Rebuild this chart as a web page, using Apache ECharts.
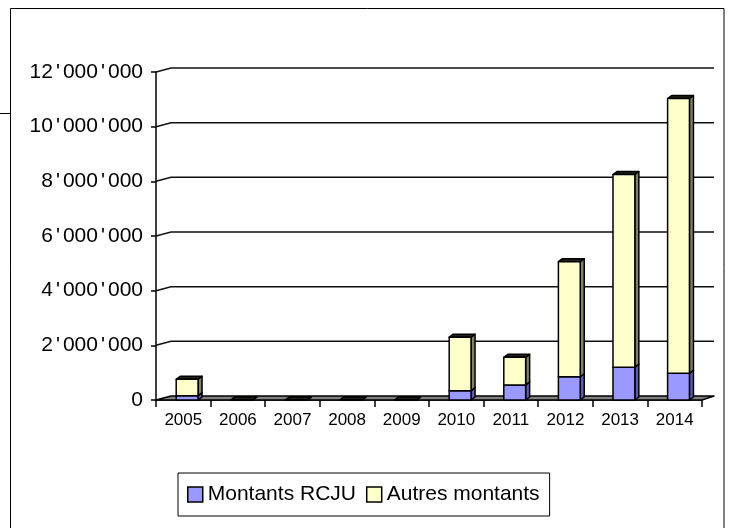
<!DOCTYPE html>
<html>
<head>
<meta charset="utf-8">
<script src="https://cdn.jsdelivr.net/npm/echarts@6/dist/echarts.min.js"></script>
<style>
  html, body { margin: 0; padding: 0; background: #ffffff; }
  #chart { width: 729px; height: 528px; }
</style>
</head>
<body>
<div id="chart"></div>
<script>
// Amounts per year (CHF)
const years = ['2005', '2006', '2007', '2008', '2009', '2010', '2011', '2012', '2013', '2014'];
const montantsRCJU = [160000, 0, 0, 0, 0, 340000, 550000, 850000, 1200000, 980000];
const autresMontants = [600000, 0, 0, 0, 0, 1960000, 1010000, 4210000, 7050000, 10050000];
const yTicks = [0, 2000000, 4000000, 6000000, 8000000, 10000000, 12000000];

const FONT = '"Liberation Sans", Arial, sans-serif';

// extrusion of the bars and of the back wall
const BAR_DX = 4, BAR_DY = 3;
const WALL_DX = 15, WALL_DY = 4, WALL_RIGHT = 12;

const OUTLINE = { stroke: '#000', lineWidth: 1.5, lineJoin: 'round' };

// thousands separated with an apostrophe, e.g. 12'000'000
function formatAmount(v) {
  return String(v).replace(/\B(?=(\d{3})+(?!\d))/g, "{q|'}");
}

// box-shaped bar: front face, right side and top face
function boxBar(front, side, top) {
  return function (params, api) {
    const i = api.value(0);
    const v = api.value(1);
    const base = api.value(2);
    const pBottom = api.coord([i, base]);
    const pTop = api.coord([i, base + v]);
    const band = api.size([1, 0])[0];
    const w = band * 0.4;
    const x0 = pBottom[0] - band * 0.13;
    const x1 = x0 + w;
    const yt = pTop[1];
    const yb = pBottom[1];
    return {
      type: 'group',
      children: [
        {
          type: 'polygon',
          shape: { points: [[x1, yb], [x1 + BAR_DX, yb - BAR_DY], [x1 + BAR_DX, yt - BAR_DY], [x1, yt]] },
          style: Object.assign({ fill: side }, OUTLINE)
        },
        {
          type: 'polygon',
          shape: { points: [[x0, yt], [x0 + BAR_DX, yt - BAR_DY], [x1 + BAR_DX, yt - BAR_DY], [x1, yt]] },
          style: Object.assign({ fill: top }, OUTLINE)
        },
        {
          type: 'rect',
          shape: { x: x0, y: yt, width: w, height: yb - yt },
          style: Object.assign({ fill: front }, OUTLINE)
        }
      ]
    };
  };
}

// back-wall gridlines and the floor
function wallRenderer(params, api) {
  const cs = params.coordSys;
  const t = api.value(1);
  const y = api.coord([0, t])[1];
  const xl = cs.x;
  const xr = cs.x + cs.width;
  if (t === 0) {
    return {
      type: 'polygon',
      shape: { points: [[xl, y], [xl + WALL_DX, y - WALL_DY], [xr + WALL_RIGHT, y - WALL_DY], [xr, y]] },
      style: { fill: '#808080', stroke: '#000', lineWidth: 1.5, lineJoin: 'round' }
    };
  }
  return {
    type: 'polyline',
    shape: { points: [[xl, y], [xl + WALL_DX, y - WALL_DY], [xr + WALL_RIGHT, y - WALL_DY]] },
    style: { fill: null, stroke: '#111', lineWidth: 1.5 }
  };
}

const rcjuData = years.map((y, i) => [i, montantsRCJU[i], 0]);
const autresData = years.map((y, i) => [i, autresMontants[i], montantsRCJU[i]]);
const wallData = yTicks.map(t => [0, t]);

const chart = echarts.init(document.getElementById('chart'), null, { renderer: 'canvas' });

chart.setOption({
  animation: false,
  backgroundColor: '#ffffff',
  graphic: [
    {
      type: 'rect',
      shape: { x: 10.5, y: 8.5, width: 713.5, height: 540 },
      style: { fill: null, stroke: '#000', lineWidth: 1 },
      silent: true
    },
    {
      type: 'line',
      shape: { x1: 0, y1: 113.5, x2: 10.5, y2: 113.5 },
      style: { stroke: '#000', lineWidth: 1 },
      silent: true
    }
  ],
  grid: { left: 156, right: 27, top: 72, bottom: 128, containLabel: false },
  legend: {
    left: 178,
    top: 473,
    orient: 'horizontal',
    padding: [11, 10, 11, 9],
    itemGap: 10,
    itemWidth: 15,
    itemHeight: 15,
    borderColor: '#000',
    borderWidth: 1,
    backgroundColor: '#fff',
    itemStyle: { borderColor: '#000', borderWidth: 1.5 },
    textStyle: { fontSize: 21, fontFamily: FONT, color: '#000' },
    data: [
      { name: 'Montants RCJU', icon: 'rect' },
      { name: 'Autres montants', icon: 'rect' }
    ]
  },
  xAxis: {
    type: 'category',
    data: years,
    boundaryGap: true,
    axisLine: { show: true, lineStyle: { color: '#000', width: 1.5 } },
    axisTick: { show: true, length: 7, interval: 0, lineStyle: { color: '#000', width: 1.5 } },
    axisLabel: { fontSize: 17, fontFamily: FONT, color: '#000', margin: 12, interval: 0 },
    splitLine: { show: false }
  },
  yAxis: {
    type: 'value',
    min: 0,
    max: 12000000,
    interval: 2000000,
    axisLine: { show: true, lineStyle: { color: '#000', width: 1.5 } },
    axisTick: { show: true, inside: false, length: 5, lineStyle: { color: '#000', width: 1.5 } },
    axisLabel: {
      margin: 13,
      fontSize: 21,
      fontFamily: FONT,
      color: '#000',
      formatter: formatAmount,
      rich: {
        q: { width: 10, align: 'center', fontSize: 21, fontFamily: FONT, color: '#000' }
      }
    },
    splitLine: { show: false }
  },
  series: [
    {
      name: 'wall',
      type: 'custom',
      renderItem: wallRenderer,
      data: wallData,
      encode: { x: 0, y: 1 },
      silent: true,
      z: 1
    },
    {
      name: 'Montants RCJU',
      type: 'custom',
      renderItem: boxBar('#9999FF', '#5E5EA8', '#222244'),
      itemStyle: { color: '#9999FF' },
      data: rcjuData,
      encode: { x: 0, y: 1 },
      z: 3
    },
    {
      name: 'Autres montants',
      type: 'custom',
      renderItem: boxBar('#FFFFCC', '#80806A', '#222218'),
      itemStyle: { color: '#FFFFCC' },
      data: autresData,
      encode: { x: 0, y: 1 },
      z: 4
    }
  ]
});
</script>
</body>
</html>
